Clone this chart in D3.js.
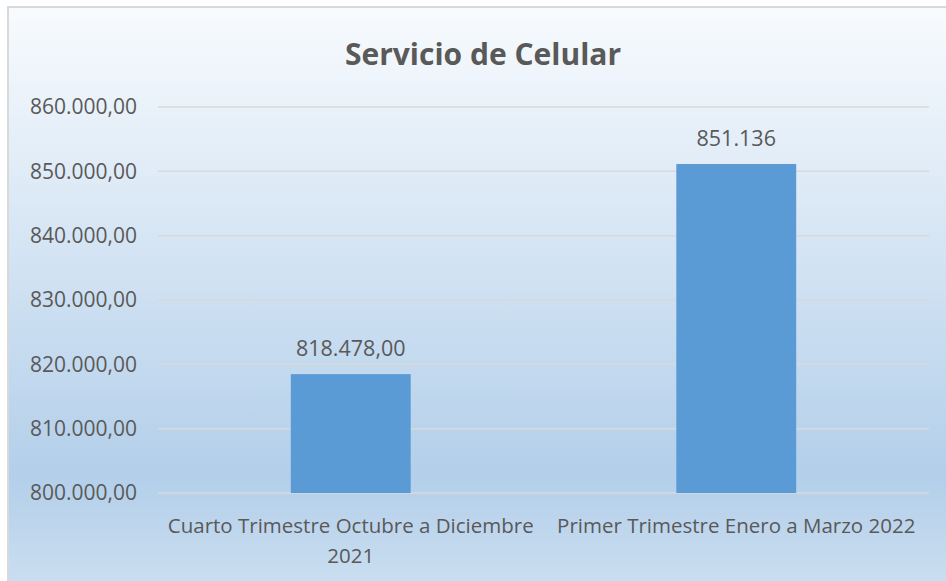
<!DOCTYPE html>
<html>
<head>
<meta charset="utf-8">
<script src="https://cdn.jsdelivr.net/npm/d3@7"></script>
<style>
  body { margin: 0; background: #fff; }
  svg text { font-family: "Open Sans", sans-serif; fill: #595959; }
</style>
</head>
<body>
<script>
// data
var categories = ["Cuarto Trimestre Octubre a Diciembre 2021", "Primer Trimestre Enero a Marzo 2022"];
var values = [818478, 851136];
var valueLabels = ["818.478,00", "851.136"];
var yTicks = [800000, 810000, 820000, 830000, 840000, 850000, 860000];

var W = 946, H = 581;
var margin = {top: 107, right: 17, bottom: 88, left: 158},
    width = W - margin.left - margin.right,
    height = H - margin.top - margin.bottom;

var svg = d3.select("body").append("svg")
    .attr("width", W)
    .attr("height", H);

// background gradient
var grad = svg.append("defs").append("linearGradient")
    .attr("id", "bg")
    .attr("x1", 0).attr("y1", 0).attr("x2", 0).attr("y2", 1);
grad.append("stop").attr("offset", "0%").attr("stop-color", "#f8fbfe");
grad.append("stop").attr("offset", "78%").attr("stop-color", "#b3cfea");
grad.append("stop").attr("offset", "100%").attr("stop-color", "#cfe1f1");

svg.append("rect")
    .attr("x", 8).attr("y", 7)
    .attr("width", W + 20).attr("height", H + 20)
    .attr("fill", "url(#bg)")
    .attr("stroke", "#d9d9d9")
    .attr("stroke-width", 2);

var g = svg.append("g")
    .attr("transform", "translate(" + margin.left + "," + margin.top + ")");

// scales
var xScale = d3.scaleBand().domain(categories).range([0, width]).padding(0);
var yScale = d3.scaleLinear().domain([800000, 860000]).range([height, 0]);
var barW = xScale.bandwidth() * 0.311;

var fmt = function(v) {
  return d3.format(",.2f")(v).replace(/,/g, "#").replace(".", ",").replace(/#/g, ".");
};

// gridlines
g.selectAll(".grid")
    .data(yTicks)
  .enter().append("line")
    .attr("class", "grid")
    .attr("x1", 0).attr("x2", width)
    .attr("y1", function(d) { return yScale(d); })
    .attr("y2", function(d) { return yScale(d); })
    .attr("stroke", "#d9d9d9")
    .attr("stroke-width", 1.5);

// y axis labels
var yAxis = d3.axisLeft(yScale).tickValues(yTicks).tickFormat(fmt).tickSize(0).tickPadding(21);
g.append("g")
    .attr("class", "y axis")
    .call(yAxis)
    .call(function(a) { a.select(".domain").remove(); })
    .selectAll("text")
      .style("font-size", "21px")
      .attr("fill", "#595959");

// bars
g.selectAll(".bar")
    .data(values)
  .enter().append("rect")
    .attr("class", "bar")
    .attr("x", function(d, i) { return xScale(categories[i]) + (xScale.bandwidth() - barW) / 2; })
    .attr("width", barW)
    .attr("y", function(d) { return yScale(d); })
    .attr("height", function(d) { return height - yScale(d); })
    .attr("fill", "#5b9bd5");

// value labels
g.selectAll(".vlabel")
    .data(values)
  .enter().append("text")
    .attr("class", "vlabel")
    .attr("x", function(d, i) { return xScale(categories[i]) + xScale.bandwidth() / 2; })
    .attr("y", function(d) { return yScale(d) - 18; })
    .attr("text-anchor", "middle")
    .style("font-size", "21.5px")
    .text(function(d, i) { return valueLabels[i]; });

// x axis category labels, wrapped to band width
var xl = g.selectAll(".xlabel")
    .data(categories)
  .enter().append("text")
    .attr("class", "xlabel")
    .attr("x", function(d) { return xScale(d) + xScale.bandwidth() / 2; })
    .attr("y", height + 40)
    .attr("text-anchor", "middle")
    .style("font-size", "20.5px");

xl.each(function(d) {
  var t = d3.select(this), words = d.split(" "), line = [];
  var ts = t.append("tspan").attr("x", t.attr("x")).attr("dy", 0);
  words.forEach(function(w) {
    line.push(w);
    ts.text(line.join(" "));
    if (ts.node().getComputedTextLength() > xScale.bandwidth() - 4 && line.length > 1) {
      line.pop();
      ts.text(line.join(" "));
      line = [w];
      ts = t.append("tspan").attr("x", t.attr("x")).attr("dy", 30).text(w);
    }
  });
});

// title
svg.append("text")
    .attr("x", 483)
    .attr("y", 65)
    .attr("text-anchor", "middle")
    .style("font-size", "30px")
    .style("font-weight", "bold")
    .text("Servicio de Celular");
</script>
</body>
</html>
